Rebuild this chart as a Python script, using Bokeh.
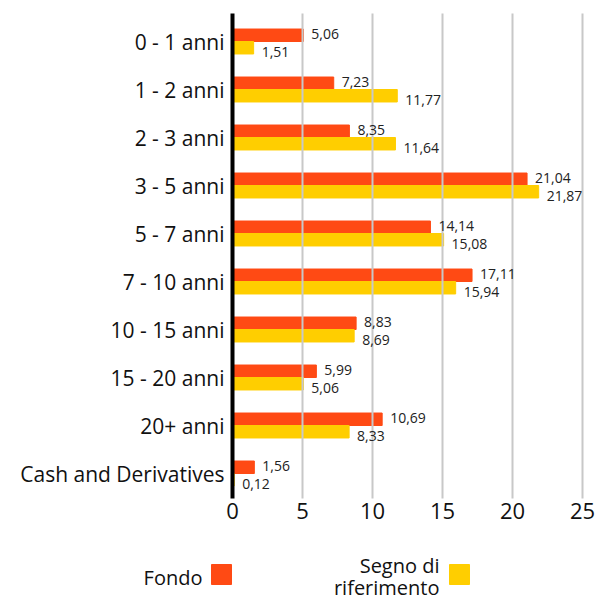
from bokeh.plotting import figure
from bokeh.models import ColumnDataSource, Range1d, FixedTicker
from bokeh.transform import dodge
from bokeh.core.properties import value
from bokeh.embed import file_html
from bokeh.resources import INLINE

categories = ["0 - 1 anni", "1 - 2 anni", "2 - 3 anni", "3 - 5 anni", "5 - 7 anni",
              "7 - 10 anni", "10 - 15 anni", "15 - 20 anni", "20+ anni", "Cash and Derivatives"]
fondo = [5.06, 7.23, 8.35, 21.04, 14.14, 17.11, 8.83, 5.99, 10.69, 1.56]
segno = [1.51, 11.77, 11.64, 21.87, 15.08, 15.94, 8.69, 5.06, 8.33, 0.12]
x_ticks = [0, 5, 10, 15, 20, 25]
legend_fondo = "Fondo"
legend_segno = ["Segno di", "riferimento"]

ORANGE = "#FF4A14"
YELLOW = "#FFCE00"
FONT = "Open Sans"

# layout (pixels inside the canvas)
W, H = 600, 600
X0_PX, PX_PER_UNIT = 232, 14.0      # where value 0 sits, pixels per unit
Y0_PX, PX_PER_BAND = 41, 48.0       # first category centre, band height
TOP_PX, BOTTOM_PX = 13, 498         # extent of the value axis line / grid

def ydata(px):
    return (px - Y0_PX) / PX_PER_BAND

def fmt(v):
    return f"{v:.2f}".replace(".", ",")

pos = list(range(len(categories)))
src = ColumnDataSource(dict(
    pos=pos, cat=categories, fondo=fondo, segno=segno,
    fondo_lbl=[fmt(v) for v in fondo], segno_lbl=[fmt(v) for v in segno],
))

p = figure(width=W, height=H, output_backend="svg", toolbar_location=None,
           x_range=Range1d(-X0_PX / PX_PER_UNIT, (W - X0_PX) / PX_PER_UNIT),
           y_range=Range1d(ydata(H), ydata(0)),
           min_border=0, min_border_left=0, min_border_right=0,
           min_border_top=0, min_border_bottom=0)
p.outline_line_color = None
p.grid.visible = False
p.background_fill_color = "white"

# vertical grid lines
top_y, bot_y = ydata(TOP_PX), ydata(BOTTOM_PX)
grid_x = x_ticks[1:]
p.segment(x0=grid_x, x1=grid_x, y0=[top_y] * len(grid_x), y1=[bot_y] * len(grid_x),
          line_color="#c8c8c8", line_width=2)

# x axis at the bottom of the bars
p.xaxis.fixed_location = bot_y
p.xaxis.ticker = FixedTicker(ticks=x_ticks)
p.xaxis.axis_line_color = None
p.xaxis.major_tick_line_color = None
p.xaxis.minor_tick_line_color = None
p.xaxis.major_tick_out = 0
p.xaxis.major_tick_in = 0
p.xaxis.minor_tick_out = 0
p.xaxis.major_label_text_font = FONT
p.xaxis.major_label_text_font_size = "22px"
p.xaxis.major_label_text_color = "#111111"
p.xaxis.major_label_standoff = 4

# category axis at value 0
p.yaxis.fixed_location = 0
p.yaxis.bounds = (top_y, bot_y)
p.yaxis.ticker = FixedTicker(ticks=pos)
p.yaxis.major_label_overrides = {i: c for i, c in zip(pos, categories)}
p.yaxis.axis_line_color = "black"
p.yaxis.axis_line_width = 4
p.yaxis.major_tick_line_color = None
p.yaxis.minor_tick_line_color = None
p.yaxis.major_tick_out = 0
p.yaxis.major_tick_in = 0
p.yaxis.minor_tick_out = 0
p.yaxis.major_label_text_font = FONT
p.yaxis.major_label_text_font_size = "21px"
p.yaxis.major_label_text_color = "#111111"
p.yaxis.major_label_standoff = 8

p.hbar(y=dodge("pos", -0.13), right="fondo", left=0, height=0.26,
       color=ORANGE, source=src, level="underlay")
p.hbar(y=dodge("pos", 0.13), right="segno", left=0, height=0.26,
       color=YELLOW, source=src, level="underlay")
p.text(x="fondo", y=dodge("pos", -0.13), text="fondo_lbl", source=src,
       x_offset=8, y_offset=-1, text_align="left", text_baseline="middle",
       text_font=value(FONT), text_font_size="14px", text_color="#222222")
p.text(x="segno", y=dodge("pos", 0.13), text="segno_lbl", source=src,
       x_offset=8, y_offset=4, text_align="left", text_baseline="middle",
       text_font=value(FONT), text_font_size="14px", text_color="#222222")

# legend drawn in canvas pixels
p.extra_x_ranges = {"px": Range1d(0, W)}
p.extra_y_ranges = {"px": Range1d(H, 0)}
lg_box = ColumnDataSource(dict(x=[221, 459], y=[574, 574], col=[ORANGE, YELLOW]))
p.rect(x="x", y="y", width=20, height=20, width_units="screen", height_units="screen",
       color="col", source=lg_box, x_range_name="px", y_range_name="px")
lg_txt = ColumnDataSource(dict(x=[202, 439, 439], y=[577, 565, 587],
                               t=[legend_fondo] + legend_segno))
p.text(x="x", y="y", text="t", source=lg_txt, x_range_name="px", y_range_name="px",
       text_align="right", text_baseline="alphabetic",
       text_font=value(FONT), text_font_size="20px", text_color="#111111")

open("out.html", "w").write(file_html(p, INLINE))
